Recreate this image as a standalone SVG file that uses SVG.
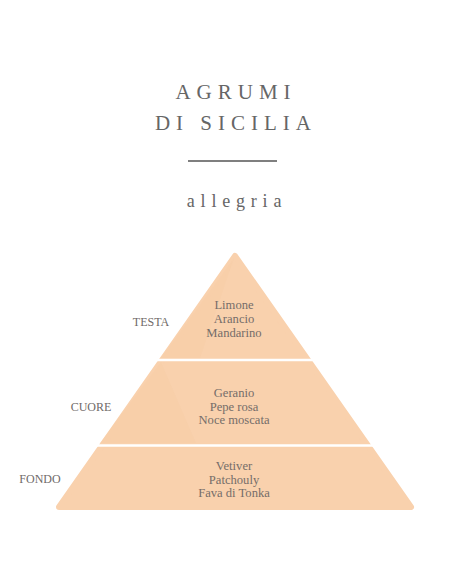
<svg xmlns="http://www.w3.org/2000/svg" width="452" height="584" viewBox="0 0 452 584">
<style>
.title{font-family:"Liberation Serif","DejaVu Serif",serif;font-size:21px;fill:#666;letter-spacing:6px;text-anchor:middle}
.sub{font-family:"Liberation Serif","DejaVu Serif",serif;font-size:18px;fill:#666;letter-spacing:5.8px;text-anchor:middle}
.note{font-family:"Liberation Serif","DejaVu Serif",serif;font-size:12.6px;fill:#756d69;text-anchor:middle}
.lab{font-family:"Liberation Serif","DejaVu Serif",serif;font-size:12px;fill:#6f6a68;text-anchor:middle}
.tier{fill:#F9D1AD;stroke:#F9D1AD;stroke-width:6;stroke-linejoin:round}
.shade{fill:#F5C9A2;opacity:0.3}
.sep{stroke:#fff;stroke-width:2.5}
</style>
<rect width="452" height="584" fill="#fff"/>
<g id="title">
<text class="title" x="236" y="99">AGRUMI</text>
<text class="title" x="236" y="130">DI SICILIA</text>
<line x1="188" y1="161" x2="277" y2="161" stroke="#555" stroke-width="1.3"/>
<text class="sub" x="237" y="207">allegria</text>
</g>
<g id="pyramid">
<polygon class="tier" points="235,256 411,507 59,507"/>
<polygon class="shade" points="161,362 196,443 100,443"/>
<polygon class="shade" points="234,258 200,358 161,358"/>
<line class="sep" x1="150" y1="360" x2="320" y2="360"/>
<line class="sep" x1="90" y1="445.5" x2="380" y2="445.5"/>
</g>
<g id="testa">
<text class="lab" x="151" y="326">TESTA</text>
<text class="note" x="234" y="309">Limone</text>
<text class="note" x="234" y="323">Arancio</text>
<text class="note" x="234" y="337">Mandarino</text>
</g>
<g id="cuore">
<text class="lab" x="91" y="411">CUORE</text>
<text class="note" x="234" y="397">Geranio</text>
<text class="note" x="234" y="410.5">Pepe rosa</text>
<text class="note" x="234" y="424">Noce moscata</text>
</g>
<g id="fondo">
<text class="lab" x="40" y="483">FONDO</text>
<text class="note" x="234" y="470">Vetiver</text>
<text class="note" x="234" y="483.5">Patchouly</text>
<text class="note" x="234" y="497">Fava di Tonka</text>
</g>
<g id="connectors"/>
</svg>
